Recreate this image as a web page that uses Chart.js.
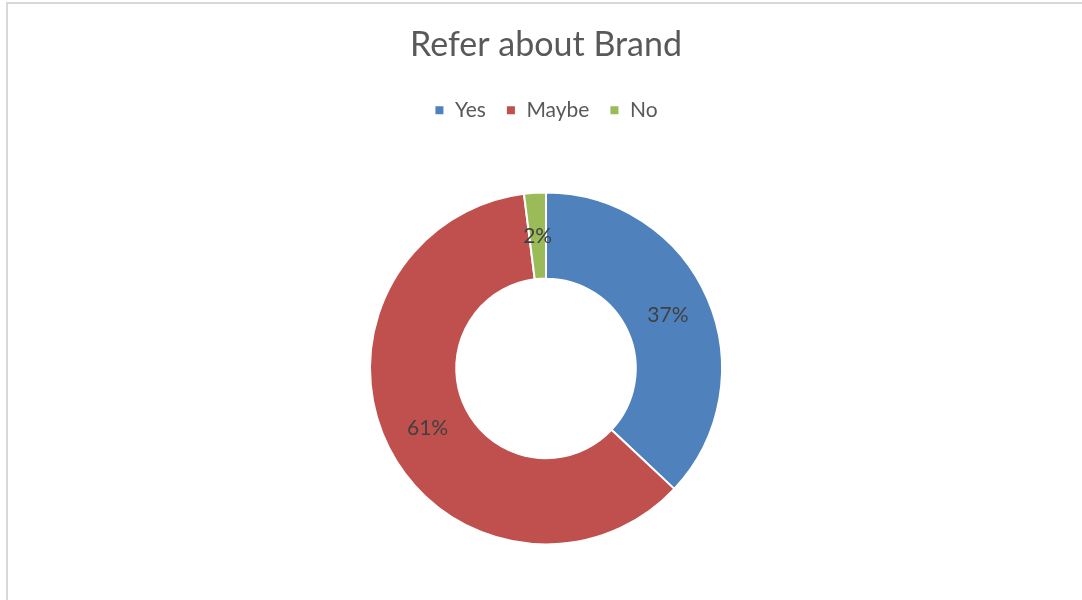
<!DOCTYPE html>
<html>
<head>
<meta charset="utf-8">
<script src="https://cdn.jsdelivr.net/npm/chart.js@4"></script>
<style>
  html, body { margin: 0; padding: 0; background: #fff; overflow: hidden; }
  #wrap {
    position: absolute; left: 6px; top: 2px; width: 1090px; height: 610px;
    border-left: 2px solid #d9d9d9; border-top: 2px solid #d9d9d9;
  }
  #box { position: absolute; left: -8px; top: -4px; width: 1082px; height: 600px; }
</style>
</head>
<body>
<div id="wrap"><div id="box"><canvas id="myChart"></canvas></div></div>
<script>
  const labels = ['Yes', 'Maybe', 'No']
  const values = [37, 61, 2]
  const colors = ['#4f81bd', '#c0504d', '#9bbb59']

  // percent text at the middle of each ring segment
  const sliceLabels = {
    id: 'sliceLabels',
    afterDatasetsDraw(chart) {
      const ctx = chart.ctx
      const meta = chart.getDatasetMeta(0)
      const total = values.reduce((a, b) => a + b, 0)
      ctx.save()
      ctx.font = '21px Lato, "Open Sans", sans-serif'
      ctx.fillStyle = '#404040'
      ctx.textAlign = 'center'
      ctx.textBaseline = 'middle'
      meta.data.forEach((arc, i) => {
        const p = arc.tooltipPosition()
        ctx.fillText(Math.round(values[i] / total * 100) + '%', p.x, p.y)
      })
      ctx.restore()
    }
  }

  // a bit more room under the legend, pushes the ring down
  const legendGap = {
    id: 'legendGap',
    beforeInit(chart) {
      const fit = chart.legend.fit
      chart.legend.fit = function () {
        fit.bind(chart.legend)()
        this.height += 6
      }
    }
  }

  const ctx = document.getElementById('myChart')

  new Chart(ctx, {
    type: 'doughnut',
    data: {
      labels: labels,
      datasets: [{
        data: values,
        backgroundColor: colors,
        borderColor: '#ffffff',
        borderWidth: 2,
        radius: 176,
        cutout: '51%'
      }]
    },
    options: {
      responsive: true,
      maintainAspectRatio: false,
      animation: false,
      layout: { padding: { left: 10 } },
      plugins: {
        title: {
          display: true,
          text: 'Refer about Brand',
          color: '#595959',
          font: { family: 'Lato, "Open Sans", sans-serif', size: 34, weight: 'normal' },
          padding: { top: 25, bottom: 14 }
        },
        legend: {
          position: 'top',
          labels: {
            color: '#595959',
            font: { family: 'Lato, "Open Sans", sans-serif', size: 21 },
            usePointStyle: true,
            pointStyle: 'rect',
            boxWidth: 10,
            boxHeight: 10,
            padding: 20
          }
        },
        tooltip: { enabled: false }
      }
    },
    plugins: [legendGap, sliceLabels]
  })
</script>
</body>
</html>
